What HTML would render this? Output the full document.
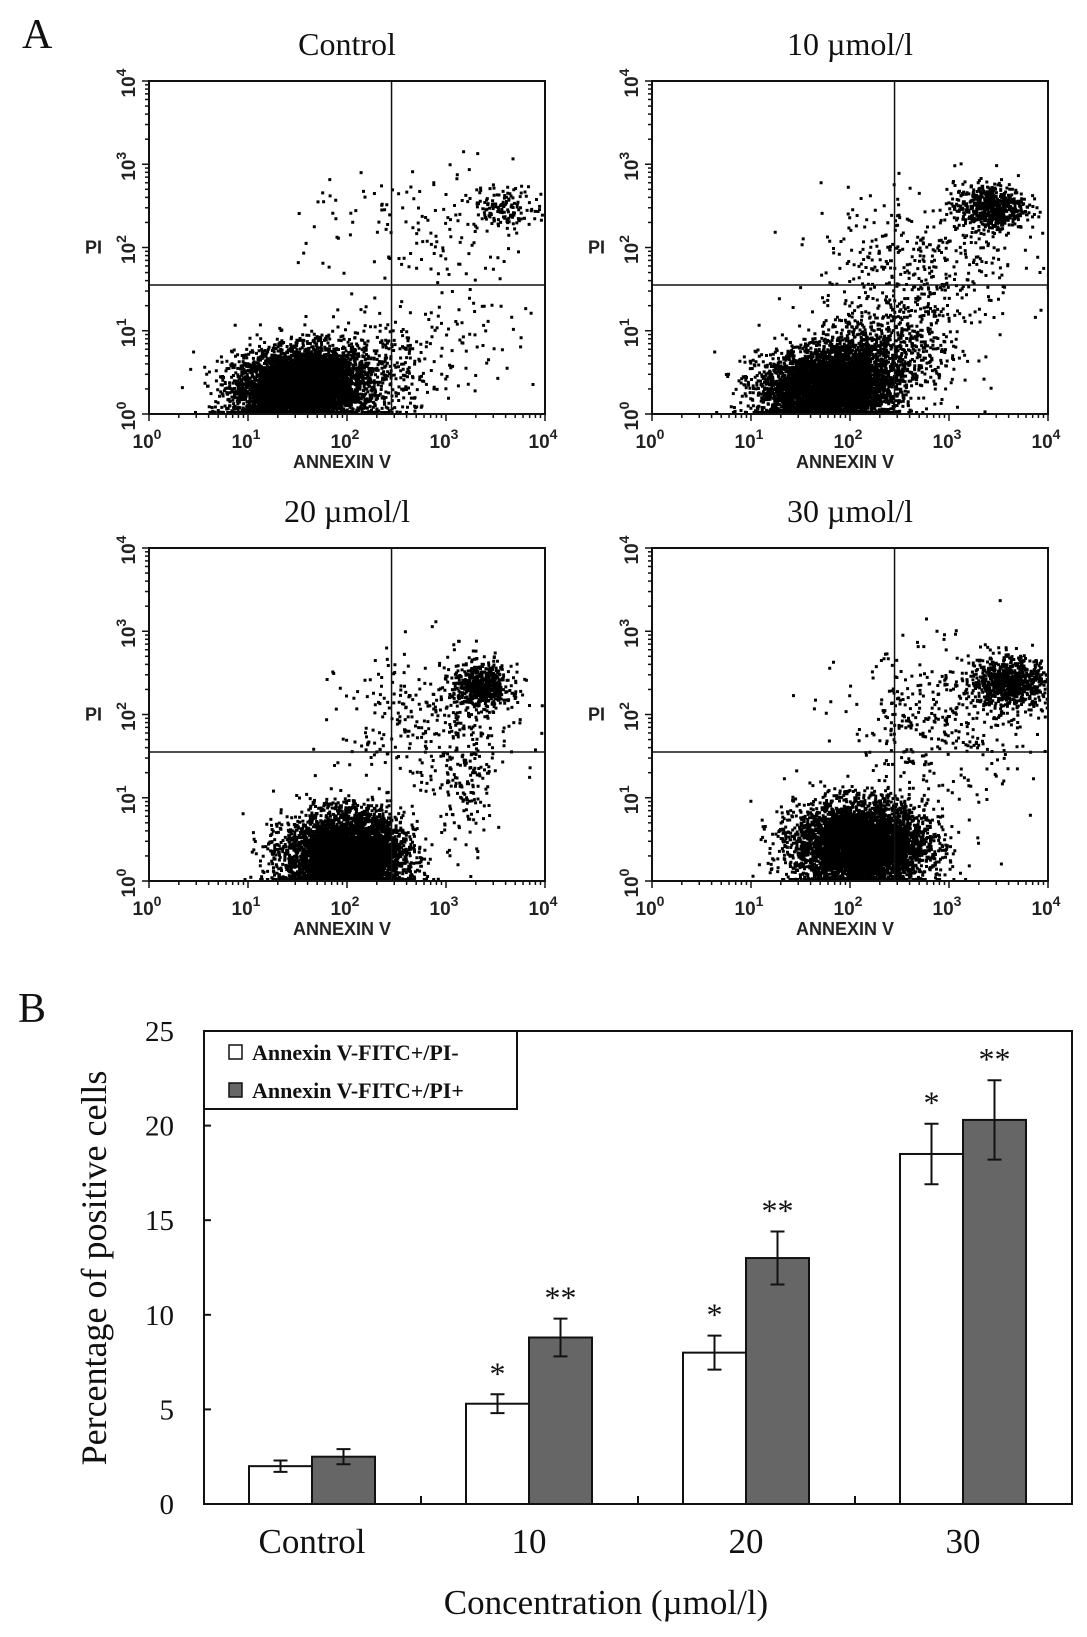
<!DOCTYPE html>
<html><head><meta charset="utf-8"><style>
html,body{margin:0;padding:0;background:#fff}
svg{display:block}
text{font-family:"Liberation Serif",serif;fill:#111}
.ax{font-family:"Liberation Sans",sans-serif;font-weight:bold;fill:#222}
</style></head><body>
<svg id="fig" width="1087" height="1637" viewBox="0 0 1087 1637" xmlns="http://www.w3.org/2000/svg">
<text x="22" y="48" font-size="42">A</text>
<text x="18" y="1022" font-size="42">B</text>
<g id="scatter"></g>
<g id="bars"></g>
</svg>
<script>
// ---------- Bar chart data ----------
const categories = ["Control", "10", "20", "30"];
const seriesNames = ["Annexin V-FITC+/PI-", "Annexin V-FITC+/PI+"];
const earlyValues = [2.0, 5.3, 8.0, 18.5];
const earlyErrors = [0.3, 0.5, 0.9, 1.6];
const lateValues = [2.5, 8.8, 13.0, 20.3];
const lateErrors = [0.4, 1.0, 1.4, 2.1];
const earlyStars = ["", "*", "*", "*"];
const lateStars = ["", "**", "**", "**"];
const yTicks = [0, 5, 10, 15, 20, 25];

// ---------- Flow cytometry clusters (log10 units: cx, cy, sx, sy, count) ----------
const panelTitles = ["Control", "10 \u00b5mol/l", "20 \u00b5mol/l", "30 \u00b5mol/l"];
const clustersControl = [[1.45,0.3,0.3,0.22,4500],[1.7,0.45,0.25,0.2,1500],[2.2,0.5,0.3,0.3,400],[3.6,2.5,0.18,0.12,140],[2.8,2.2,0.6,0.4,150],[3.0,0.8,0.4,0.4,90]];
const clusters10 = [[1.7,0.3,0.32,0.22,3500],[2.0,0.5,0.25,0.25,1500],[2.5,0.8,0.3,0.35,500],[3.4,2.5,0.18,0.14,600],[2.7,1.8,0.5,0.45,400]];
const clusters20 = [[1.95,0.3,0.3,0.25,4500],[2.1,0.5,0.22,0.22,700],[3.35,2.35,0.15,0.13,600],[2.8,1.9,0.45,0.45,300],[3.2,1.3,0.15,0.4,150]];
const clusters30 = [[2.1,0.45,0.33,0.25,5200],[3.6,2.4,0.2,0.15,800],[2.9,1.9,0.5,0.45,400]];
const quadX = [2.45, 2.45, 2.45, 2.45];
const quadY = [1.55, 1.55, 1.55, 1.55];

const NS = "http://www.w3.org/2000/svg";
function mk(tag, attrs, parent){const e=document.createElementNS(NS,tag);for(const k in attrs)e.setAttribute(k,attrs[k]);parent.appendChild(e);return e;}

// ---------- Scatter panels ----------
const sc = document.getElementById("scatter");
const panels = [[149,81],[652,81],[149,548],[652,548]];
const PW = 396, PH = 333;
const allClusters = [clustersControl, clusters10, clusters20, clusters30];
let seed = 12345;
function rnd(){seed=(seed*1103515245+12345)%2147483648;return seed/2147483648;}
function gauss(){let u=rnd()||1e-9,v=rnd();return Math.sqrt(-2*Math.log(u))*Math.cos(2*Math.PI*v);}
panels.forEach((p,i)=>{
  const [L,T]=p;
  const g=mk("g",{},sc);
  
  
  const xs=v=>L+v/4*PW, ys=v=>T+PH-v/4*PH;
  const t=mk("text",{x:L+PW/2,y:T-26,"font-size":32,"text-anchor":"middle"},g);
  t.textContent=panelTitles[i];
  
  
  const cid="clip"+i;
  const cp=mk("clipPath",{id:cid},g);
  mk("rect",{x:L,y:T,width:PW,height:PH},cp);
  const dots=mk("g",{"clip-path":"url(#"+cid+")",fill:"#000"},g);
  
  
  let d="";
  allClusters[i].forEach(c=>{
    for(let k=0;k<c[4];k++){
      let x=c[0]+gauss()*c[2], y=c[1]+gauss()*c[3];
      if(y<0) y=Math.abs(y)*0.3;
      if(x<0||x>4) continue;
      const px=xs(x), py=Math.min(ys(y),T+PH-3);
      d+="M"+px.toFixed(1)+" "+py.toFixed(1)+"h3v3h-3z";
    }
  });
  mk("path",{d:d},dots);
  mk("rect",{x:L,y:T,width:PW,height:PH,fill:"none",stroke:"#111","stroke-width":2},g);
  const qv=mk("line",{x1:xs(quadX[i]),x2:xs(quadX[i]),y1:T,y2:T+PH,stroke:"#111","stroke-width":1.5},g);
  
  
  const qh=mk("line",{x1:L,x2:L+PW,y1:ys(quadY[i]),y2:ys(quadY[i]),stroke:"#111","stroke-width":1.5},g);
  
  
  for(let dcd=0;dcd<4;dcd++){
    for(let m=1;m<10;m++){
      const v=dcd+Math.log10(m), len=m===1?7:4;
      mk("line",{x1:xs(v),x2:xs(v),y1:T+PH,y2:T+PH+len,stroke:"#111","stroke-width":1.5},g);
      mk("line",{x1:L,x2:L-len,y1:ys(v),y2:ys(v),stroke:"#111","stroke-width":1.5},g);
    }
  }
  mk("line",{x1:xs(4),x2:xs(4),y1:T+PH,y2:T+PH+7,stroke:"#111","stroke-width":1.5},g);
  mk("line",{x1:L,x2:L-7,y1:T,y2:T,stroke:"#111","stroke-width":1.5},g);
  for(let e=0;e<=4;e++){
    const tx=mk("text",{x:xs(e)-2,y:T+PH+34,"font-size":19,"text-anchor":"middle",class:"ax"},g);
    tx.innerHTML='10<tspan dy="-9" font-size="14">'+e+'</tspan>';
    
    
    const ty=mk("text",{x:0,y:0,"font-size":19,"text-anchor":"middle",class:"ax",transform:"translate("+(L-14)+","+(ys(e)+2)+") rotate(-90)"},g);
    ty.innerHTML='10<tspan dy="-9" font-size="14">'+e+'</tspan>';
    
    
  }
  const xl=mk("text",{x:L+PW/2-5,y:T+PH+54,"font-size":18,"text-anchor":"middle",class:"ax"},g);
  xl.textContent="ANNEXIN  V";
  
  
  const yl=mk("text",{x:L-64,y:ys(2)+6,"font-size":18,class:"ax"},g);
  yl.textContent="PI";
  
  
});

// ---------- Bar chart ----------
const bg=document.getElementById("bars");
const BL=204, BR=1072, BT=1031, BB=1504, YMAX=25;
const yS=v=>BB-v/YMAX*(BB-BT);
const gw=(BR-BL)/categories.length;
const bw=63;
const xGroup=i=>BL+i*gw;
const frame=mk("rect",{x:BL,y:BT,width:BR-BL,height:BB-BT,fill:"none",stroke:"#111","stroke-width":2},bg);


yTicks.forEach(v=>{
  mk("line",{x1:BL,x2:BL+7,y1:yS(v),y2:yS(v),stroke:"#111","stroke-width":2},bg);
  const t=mk("text",{x:BL-30,y:yS(v)+10,"font-size":29,"text-anchor":"end"},bg);
  t.textContent=v;
  
  
});
for(let i=1;i<categories.length;i++){
  mk("line",{x1:xGroup(i),x2:xGroup(i),y1:BB,y2:BB-8,stroke:"#111","stroke-width":2},bg);
}
function drawBar(i,val,err,star,off,fill,name){
  const x=xGroup(i)+off;
  const r=mk("rect",{x:x,y:yS(val),width:bw,height:BB-yS(val),fill:fill,stroke:"#111","stroke-width":2},bg);
  
  
  const cx=x+bw/2;
  const eb=mk("path",{d:"M"+cx+" "+yS(val+err)+"V"+yS(val-err)+"M"+(cx-7)+" "+yS(val+err)+"h14M"+(cx-7)+" "+yS(val-err)+"h14",stroke:"#111","stroke-width":2,fill:"none"},bg);
  
  
  if(star){
    const s=mk("text",{x:cx,y:yS(val+err)-10,"font-size":32,"text-anchor":"middle"},bg);
    s.textContent=star;
    
    
  }
}
categories.forEach((c,i)=>{
  drawBar(i,earlyValues[i],earlyErrors[i],earlyStars[i],45,"#fff","bar-early");
  drawBar(i,lateValues[i],lateErrors[i],lateStars[i],45+bw,"#666","bar-late");
  const t=mk("text",{x:xGroup(i)+45+bw,y:1553,"font-size":35,"text-anchor":"middle"},bg);
  t.textContent=c;
  
  
});
const xt=mk("text",{x:606,y:1614,"font-size":35,"text-anchor":"middle"},bg);
xt.textContent="Concentration (\u00b5mol/l)";


const yt=mk("text",{x:0,y:0,"font-size":36,"text-anchor":"middle",transform:"translate(106,1268) rotate(-90)"},bg);
yt.textContent="Percentage of positive cells";


// legend
const lg=mk("g",{},bg);


mk("rect",{x:BL,y:BT,width:313,height:78,fill:"#fff",stroke:"#111","stroke-width":2},lg);
const lfill=["#fff","#666"];
seriesNames.forEach((n,k)=>{
  const y=1060+k*38;
  const sw=mk("rect",{x:229,y:y-15,width:13,height:14,fill:lfill[k],stroke:"#111","stroke-width":1.5},lg);
  
  
  const t=mk("text",{x:252,y:y,"font-size":22,"font-weight":"bold"},lg);
  t.textContent=n;
  
  
});
</script>
</body></html>
